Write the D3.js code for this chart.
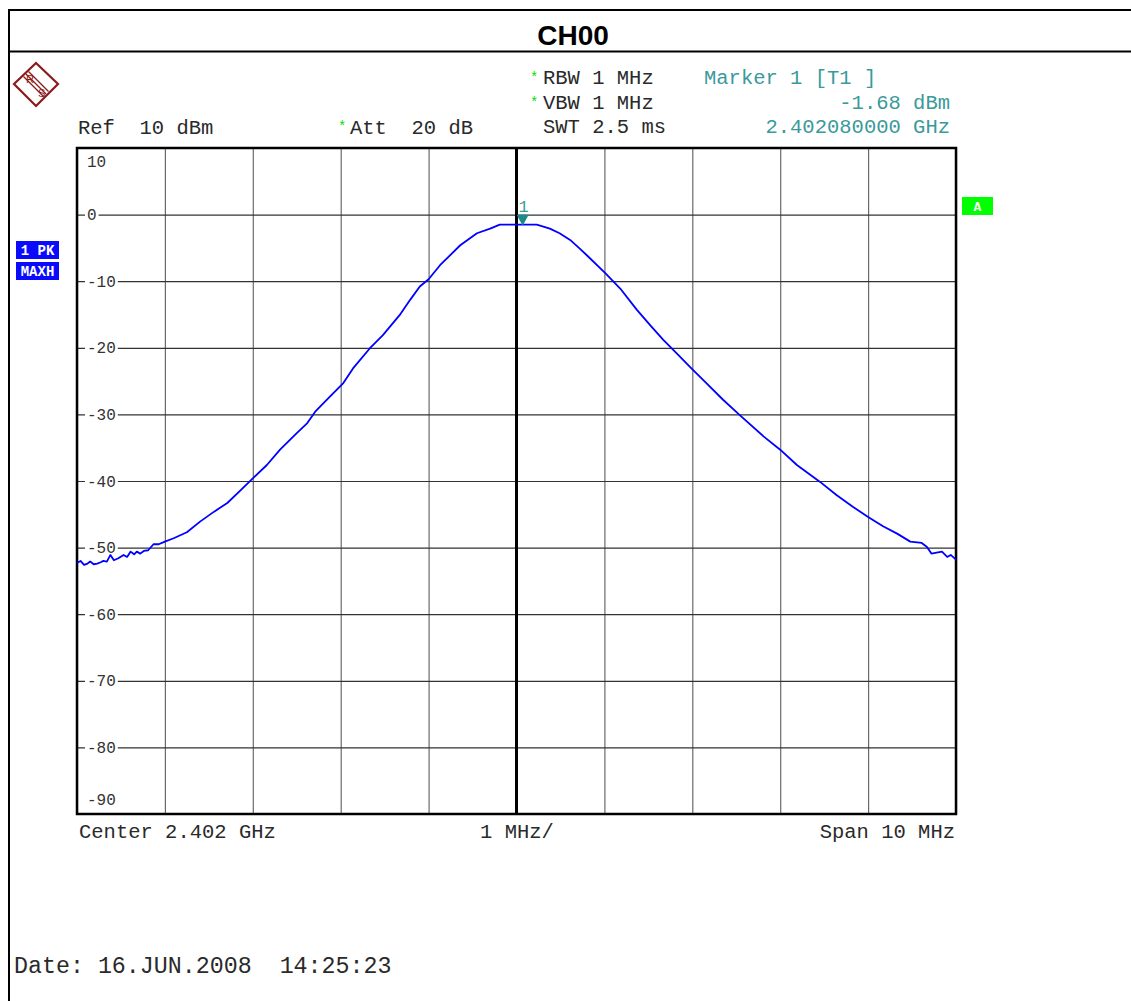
<!DOCTYPE html>
<html><head><meta charset="utf-8">
<script src="https://cdn.jsdelivr.net/npm/d3@7"></script>
<style>
body{margin:0;background:#fff;}
svg{display:block;}
text{font-family:"Liberation Mono","DejaVu Sans Mono",monospace;}
</style></head>
<body>
<svg id="c" width="1131" height="1001"></svg>
<script>
// ---- data ----
const freqOffsetMHz = [-5.00,-4.96,-4.92,-4.88,-4.85,-4.81,-4.77,-4.73,-4.70,-4.66,-4.62,-4.58,-4.53,-4.47,-4.43,-4.39,-4.35,-4.32,-4.28,-4.24,-4.19,-4.13,-4.07,-4.00,-3.90,-3.75,-3.60,-3.44,-3.29,-3.14,-3.00,-2.84,-2.69,-2.50,-2.38,-2.29,-2.12,-1.97,-1.86,-1.67,-1.52,-1.33,-1.21,-1.10,-1.00,-0.87,-0.64,-0.45,-0.30,-0.19,0.00,0.07,0.23,0.38,0.49,0.61,0.72,0.80,1.01,1.18,1.37,1.52,1.67,1.82,1.99,2.16,2.35,2.54,2.81,3.00,3.19,3.45,3.64,3.83,4.00,4.17,4.33,4.48,4.61,4.67,4.72,4.84,4.90,4.94,5.00];
const levelDbm = [-52.3,-52.0,-52.6,-52.4,-52.1,-52.5,-52.4,-52.2,-52.0,-52.1,-51.1,-51.9,-51.6,-51.1,-51.4,-50.6,-51.0,-50.6,-50.9,-50.5,-50.4,-49.5,-49.5,-49.1,-48.6,-47.7,-46.1,-44.6,-43.3,-41.4,-39.6,-37.6,-35.3,-32.8,-31.3,-29.6,-27.3,-25.3,-23.1,-20.1,-18.1,-15.1,-12.8,-10.8,-9.7,-7.6,-4.6,-2.8,-2.1,-1.5,-1.5,-1.5,-1.5,-2.1,-2.8,-3.8,-5.1,-6.1,-8.8,-11.1,-14.3,-16.6,-18.8,-20.8,-23.1,-25.3,-27.8,-30.1,-33.3,-35.3,-37.6,-40.1,-42.1,-43.9,-45.4,-46.8,-47.9,-49.1,-49.3,-49.9,-50.9,-50.6,-51.4,-51.1,-51.8];
const yTicks = [10,0,-10,-20,-30,-40,-50,-60,-70,-80,-90];
const xTicks = [-5,-4,-3,-2,-1,0,1,2,3,4,5];
const markerFreq = 0.07, markerLevel = -1.68;
const headerLeft = ["Ref  10 dBm"];
const settings = ["RBW 1 MHz","VBW 1 MHz","SWT 2.5 ms"];
const markerInfo = ["Marker 1 [T1 ]","-1.68 dBm","2.402080000 GHz"];
const footer = ["Center 2.402 GHz","1 MHz/","Span 10 MHz"];
const dateText = "Date: 16.JUN.2008  14:25:23";
const title = "CH00";

const svg = d3.select("#c");
const x = d3.scaleLinear().domain([-5,5]).range([77,956]);
const y = d3.scaleLinear().domain([-90,10]).range([814,148]);
const txt = "#2a2a2a";

// frame
svg.append("line").attr("x1",8).attr("x2",1131).attr("y1",10).attr("y2",10).attr("stroke","#000").attr("stroke-width",2);
svg.append("line").attr("x1",8).attr("x2",1131).attr("y1",51.5).attr("y2",51.5).attr("stroke","#000").attr("stroke-width",2);
svg.append("line").attr("x1",9).attr("x2",9).attr("y1",9).attr("y2",1001).attr("stroke","#000").attr("stroke-width",2);
svg.append("text").attr("x",573).attr("y",45).attr("text-anchor","middle")
  .style("font-family","'Liberation Sans',Arial,sans-serif").style("font-weight","bold").style("font-size","28px").text(title);

// logo
const logo = svg.append("g").attr("transform","translate(36,84)");
logo.append("path").attr("d","M0,-21 L22,0 L0,22 L-22,0 Z").attr("fill","none").attr("stroke","#8b1a1a").attr("stroke-width",2.2);
[-2.5,0,2.5].forEach(o=>{
  logo.append("line").attr("x1",-10+o).attr("y1",-10-o).attr("x2",10+o).attr("y2",10-o).attr("stroke","#8b1a1a").attr("stroke-width",1.2);
});
logo.append("text").attr("x",-10).attr("y",-1).style("font-family","'Liberation Sans',Arial").style("font-size","11px").attr("fill","#8b1a1a").text("R");
logo.append("text").attr("x",2).attr("y",13).style("font-family","'Liberation Sans',Arial").style("font-size","11px").attr("fill","#8b1a1a").text("S");

// header texts
const fs = "20.5px";
svg.append("text").attr("x",78).attr("y",134).style("font-size",fs).attr("fill",txt).style("white-space","pre").text(headerLeft[0]);
svg.append("text").attr("x",338).attr("y",131).style("font-size","14px").attr("fill","#00dd00").text("*");
svg.append("text").attr("x",350).attr("y",134).style("font-size",fs).attr("fill",txt).style("white-space","pre").text("Att  20 dB");
settings.forEach((s,i)=>{
  if(i<2) svg.append("text").attr("x",530).attr("y",82+25*i).style("font-size","14px").attr("fill","#00dd00").text("*");
  svg.append("text").attr("x",543).attr("y",84+24.5*i).style("font-size",fs).attr("fill",txt).text(s);
});
svg.append("text").attr("x",704).attr("y",84).style("font-size",fs).attr("fill","#3a9a9a").text(markerInfo[0]);
svg.append("text").attr("x",950).attr("y",108.5).attr("text-anchor","end").style("font-size",fs).attr("fill","#3a9a9a").text(markerInfo[1]);
svg.append("text").attr("x",950).attr("y",133).attr("text-anchor","end").style("font-size",fs).attr("fill","#3a9a9a").text(markerInfo[2]);

// side boxes
[["1 PK",241],["MAXH",262]].forEach(([t,yy])=>{
  svg.append("rect").attr("x",16).attr("y",yy).attr("width",43).attr("height",18).attr("fill","#0a0aff");
  svg.append("text").attr("x",37.5).attr("y",yy+14).attr("text-anchor","middle").attr("fill","#fff")
    .style("font-size","14px").style("font-weight","bold").style("white-space","pre").text(t);
});
svg.append("rect").attr("x",962).attr("y",197).attr("width",31).attr("height",18).attr("fill","#00ff00");
svg.append("text").attr("x",977.5).attr("y",211).attr("text-anchor","middle").attr("fill","#fff")
  .style("font-size","13px").style("font-weight","bold").text("A");

// grid via axes
const plot = svg.append("g");
const gx = plot.append("g").attr("transform","translate(0,814)")
  .call(d3.axisBottom(x).tickValues(xTicks).tickSize(666).tickFormat(""));
gx.selectAll(".tick line").attr("y2",-666).attr("stroke","#6a6a6a").attr("stroke-width",1.2);
gx.select(".domain").remove();

const gy = plot.append("g").attr("transform","translate(77,0)")
  .call(d3.axisRight(y).tickValues(yTicks.filter(v=>v<10 && v>-90)).tickSize(879).tickFormat(""));
gy.selectAll(".tick line").attr("stroke","#333").attr("stroke-width",1.2);
gy.select(".domain").remove();

// y labels with white backgrounds
yTicks.forEach(v=>{
  let ty = y(v)+5.5, bg=true;
  if(v===10){ty = y(v)+19; bg=false;}
  if(v===-90){ty = y(v)-9; bg=false;}
  const label = String(v);
  const w = label.length*9.6;
  if(bg) plot.append("rect").attr("x",85).attr("y",y(v)-6).attr("width",w+4).attr("height",12).attr("fill","#fff");
  plot.append("text").attr("x",87).attr("y",ty).style("font-size","16px").attr("fill","#333").text(label);
});

// center line
plot.append("line").attr("x1",x(0)).attr("x2",x(0)).attr("y1",y(10)).attr("y2",y(-90)).attr("stroke","#000").attr("stroke-width",3);

// border
plot.append("rect").attr("x",77).attr("y",148).attr("width",879).attr("height",666).attr("fill","none").attr("stroke","#000").attr("stroke-width",2.5);

// trace
const pts = freqOffsetMHz.map((f,i)=>[f,levelDbm[i]]);
plot.append("path").datum(pts)
  .attr("d",d3.line().x(d=>x(d[0])).y(d=>y(d[1])))
  .attr("fill","none").attr("stroke","#0000ff").attr("stroke-width",1.8).attr("stroke-linejoin","round");

// marker
const mx = x(markerFreq), my = y(markerLevel);
plot.append("path").attr("d",`M${mx-6},${my-11} L${mx+6},${my-11} L${mx},${my} Z`).attr("fill","#1a8a8a");
plot.append("text").attr("x",mx+1).attr("y",my-14).attr("text-anchor","middle").style("font-size","17px").attr("fill","#3a9a9a").text("1");

// footer
svg.append("text").attr("x",79).attr("y",838).style("font-size",fs).attr("fill",txt).text(footer[0]);
svg.append("text").attr("x",517).attr("y",838).attr("text-anchor","middle").style("font-size",fs).attr("fill",txt).text(footer[1]);
svg.append("text").attr("x",955).attr("y",838).attr("text-anchor","end").style("font-size",fs).attr("fill",txt).text(footer[2]);
svg.append("text").attr("x",14).attr("y",973).style("font-size","23.3px").attr("fill",txt).style("white-space","pre").text(dateText);
</script>
</body></html>
